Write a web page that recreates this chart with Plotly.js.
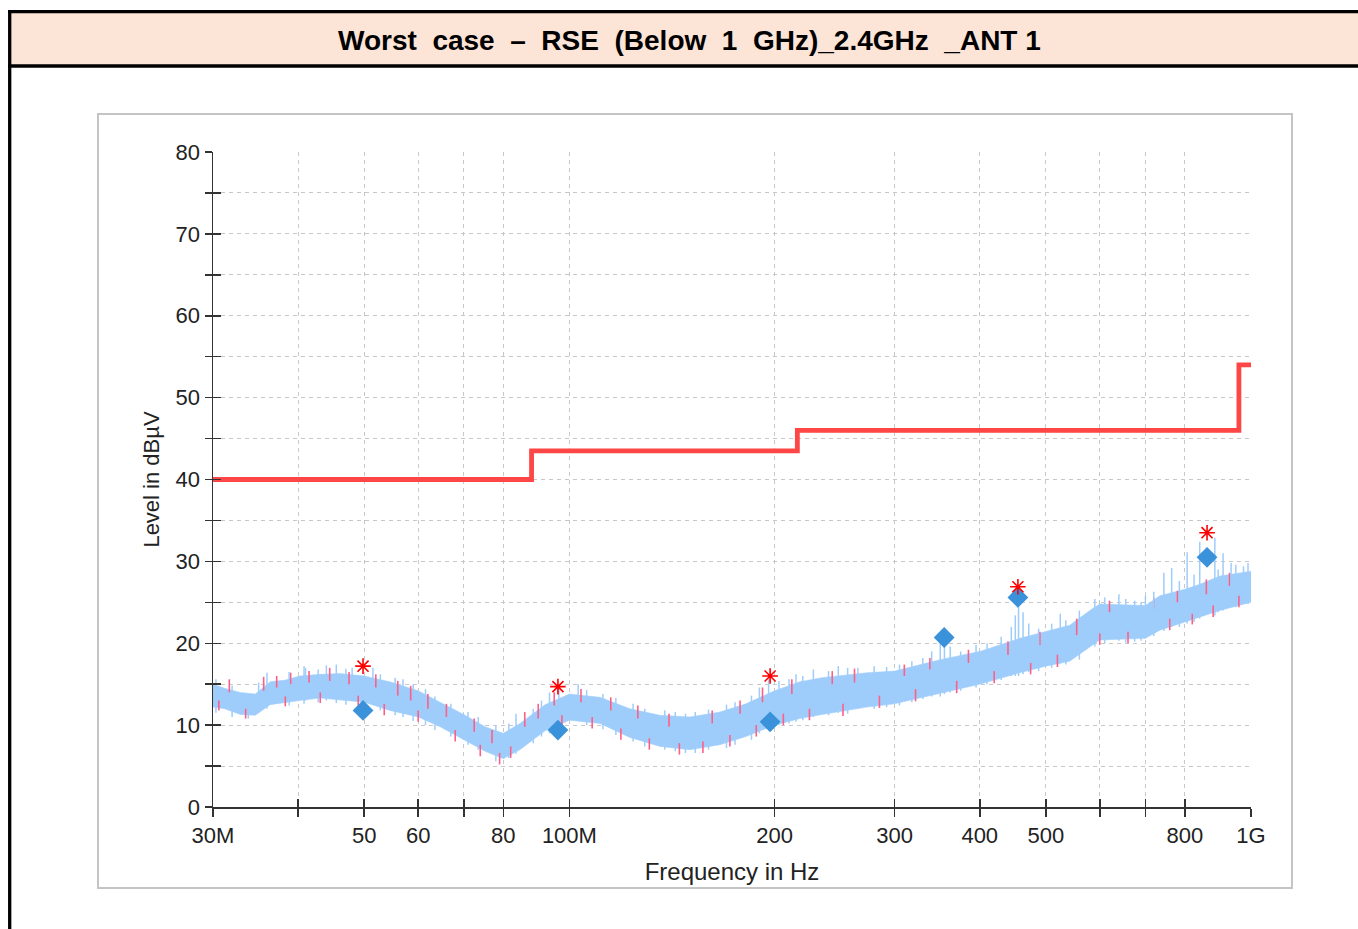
<!DOCTYPE html>
<html>
<head>
<meta charset="utf-8">
<script src="https://cdn.plot.ly/plotly-3.0.1.min.js"></script>
<style>html,body{margin:0;padding:0;background:#fff;}#chart{width:1358px;height:929px;}</style>
</head>
<body>
<div id="chart"></div>
<script>
// ---- data (frequencies in MHz, levels in dBµV) ----
const freqMHz = [30,31.2,32.9,34.6,36.4,38.3,40.2,43.1,46.1,50,54.5,60,64.6,70,75.2,80,84.6,92.1,100,110.9,122.7,135.8,150.3,166.3,181.6,200,217.9,234.8,273.3,300,349.8,400,458,500,542,580,600,700,735,800,841,900,1000];
const blueHi = [15.0,14.5,14.0,13.8,15.3,15.5,16.0,16.2,16.3,16.0,15.3,14.2,12.8,11.3,9.8,9.0,10.2,12.5,13.8,13.4,12.0,11.2,11.0,11.6,12.6,14.2,15.3,15.8,16.4,16.6,18.0,19.0,20.6,21.4,22.2,24.0,24.8,24.6,25.8,26.6,27.2,28.2,28.8];
const blueLo = [12.2,12.0,11.3,11.2,12.5,12.8,13.0,13.3,13.1,12.8,11.8,11.0,9.8,8.2,6.8,5.9,7.0,9.3,10.6,10.2,8.5,7.4,7.0,7.6,8.6,10.0,10.8,11.3,12.2,12.6,13.9,15.0,16.4,17.2,17.8,19.5,20.4,20.6,21.6,22.6,23.2,24.0,25.0];

// pink (second polarisation) streaks near the top and bottom of the band
const pinkTopF  = [31.7,35.6,37.2,39.0,41.5,44.5,47.5,52.0,56.0,58.5,62.0,66.0,72.5,77.0,86.0,90.0,95.0,104,115,126,140,162,178,192,212,243,262,310,338,385,440,490,555,620,720,780,860,930];
const pinkTopLo = [14.0,14.2,14.6,15.0,15.2,15.4,15.0,14.6,13.6,13.0,12.0,11.0,9.2,7.8,9.8,10.8,12.4,12.8,11.8,10.8,9.8,10.2,11.4,12.8,13.8,15.0,15.2,16.0,16.8,17.6,18.6,19.8,21.0,23.8,24.2,25.0,26.0,27.0];
const pinkTopHi = [15.6,15.9,16.0,16.4,16.6,17.0,16.5,16.2,15.4,14.8,13.8,12.6,10.8,9.4,11.6,12.6,14.0,14.4,13.4,12.4,11.4,11.8,13.0,14.6,15.6,16.6,16.9,17.4,18.2,19.2,20.2,21.4,23.0,25.2,25.6,26.4,27.8,28.6];
const pinkBotF  = [30.6,33.5,38.3,43.1,49.0,53.5,60.0,68.0,74.0,79.0,82.0,97.5,108,119,131,145,157,172,188,206,225,252,285,322,370,420,475,520,600,660,760,820,880,960];
const pinkBotLo = [11.8,10.8,12.3,12.7,12.2,11.2,10.4,8.0,6.2,5.2,6.0,9.8,9.6,8.2,7.0,6.4,6.6,7.4,8.6,10.0,10.6,11.1,12.1,12.9,13.9,15.1,16.2,17.1,19.8,20.0,21.6,22.3,23.2,24.4];
const pinkBotHi = [13.0,12.0,13.5,14.0,13.6,12.6,11.8,9.4,7.6,6.6,7.4,11.2,11.0,9.6,8.4,7.8,8.0,8.8,10.0,11.4,12.0,12.6,13.6,14.4,15.4,16.6,17.6,18.6,21.2,21.4,23.0,23.6,24.6,25.8];

// light-blue noise spikes of the main trace
const spikeF  = [30.3,32.0,33.8,35.0,36,38.8,40.8,41,42.8,44,45.5,47.0,48,51.5,52.8,55.5,57,59.0,61.5,63.5,67.0,71.0,73.5,78.0,81.5,83.5,88.5,91.0,93.5,96.5,103,106,112,117,124,129,138,143,148,153,160,170,175,185,190,196,203,210,215,220,228,240,248,256,265,280,292,305,318,330,340,350,355,362,375,395,410,430,445,451,456,463,472,488,510,525,535,560,590,610,640,655,675,690,700,720,745,765,785,806,825,841,885,895,910,935,950,975,990];
const spikeLo = [11.5,11.0,10.8,11.5,12,12.4,12.6,13,12.8,13,12.7,12.5,13,12.5,11.8,11.2,11,10.5,10.0,9.4,8.6,7.6,7.0,5.6,6.0,6.5,7.8,8.6,9.0,10,10.5,10.0,9.5,8.8,8.0,7.4,7.0,6.8,6.6,6.6,7.0,7.2,7.6,8.2,9,9.5,10,10.2,10.4,10.6,11,11.2,11.5,11.4,12,12.0,12.2,12.4,12.8,13.2,13.5,13.5,13.8,14,14.2,14.6,15.0,15.5,16,16,16,16.2,16.5,16.6,17.0,17.5,17.4,18.0,19.6,20.0,20.3,20.1,20.2,20.3,20.6,20.9,21.5,22,22.0,22.4,22.6,23,23.4,23.8,24,24.4,24.4,24.8,24.8];
const spikeHi = [15.6,14.8,13.5,15.2,16.4,16.5,17.2,17.0,16.8,17.3,17.4,16.9,17.0,17.0,16.2,15.8,15.6,15.0,14.4,13.5,12.6,11.6,11.0,10.0,10.2,11.4,12.0,13.0,14.0,14.4,15.0,14.3,13.8,13.3,12.6,12.0,11.8,11.6,11.4,11.6,11.9,12.5,12.8,13.6,14.6,15.6,15.4,15.6,16.2,16.0,16.8,16.6,17.2,17.0,17.0,17.2,17.1,17.4,17.8,18.2,19.0,20.2,20.6,19.6,19.0,19.8,20.0,20.8,22.0,23.4,24.8,23.8,22.4,21.8,22.4,23.6,22.8,24.0,25.4,25.6,26.0,25.4,25.2,25.0,25.8,26.3,28.6,29.2,27.6,31.1,28.4,32.4,32.9,29.0,31.0,29.8,29.6,29.4,29.8];

const limitF = [30,88,216,960,1000];
const limitV = [40,43.5,46,54,54];

const peakF = [49.8,96.2,197,455,862];
const peakV = [17.2,14.7,16.0,26.9,33.5];
const qpF = [49.8,96.2,197,354.7,455,862];
const qpV = [11.8,9.4,10.4,20.7,25.6,30.5];

const xTickVals = [30,40,50,60,70,80,100,200,300,400,500,600,700,800,1000];
const xTickText = ['30M','','50','60','','80','100M','200','300','400','500','','','800','1G'];
const yTickVals = [0,5,10,15,20,25,30,35,40,45,50,55,60,65,70,75,80];
const yTickText = ['0','','10','','20','','30','','40','','50','','60','','70','','80'];

// ---- build segment traces ----
function segs(f, lo, hi){
  const x=[], y=[];
  for(let i=0;i<f.length;i++){ x.push(f[i],f[i],null); y.push(lo[i],hi[i],null); }
  return {x,y};
}
const pt = segs(pinkTopF,pinkTopLo,pinkTopHi);
const pb = segs(pinkBotF,pinkBotLo,pinkBotHi);
const bs = segs(spikeF,spikeLo,spikeHi);

const FONT = 'Liberation Sans, Arial, sans-serif';
const BAND = '#9fcdfb';
const PINK = '#ff5f87';

const traces = [
  {x:freqMHz, y:blueLo, mode:'lines', line:{color:BAND, width:0.5}, hoverinfo:'skip', showlegend:false},
  {x:freqMHz, y:blueHi, mode:'lines', fill:'tonexty', fillcolor:BAND, line:{color:BAND, width:0.5}, hoverinfo:'skip', showlegend:false},
  {x:pt.x, y:pt.y, mode:'lines', line:{color:PINK, width:1.6}, hoverinfo:'skip', showlegend:false},
  {x:pb.x, y:pb.y, mode:'lines', line:{color:PINK, width:1.6}, hoverinfo:'skip', showlegend:false},
  {x:bs.x, y:bs.y, mode:'lines', line:{color:BAND, width:1.5}, hoverinfo:'skip', showlegend:false},
  {x:limitF, y:limitV, mode:'lines', line:{color:'#ff4646', width:4.8, shape:'hv'}, showlegend:false},
  {x:qpF, y:qpV, mode:'markers', marker:{symbol:'diamond', size:16, color:'#3a93da', line:{width:0}}, showlegend:false},
  {x:peakF, y:peakV, mode:'markers', marker:{symbol:'asterisk-open', size:13, color:'#ff0000', line:{color:'#ff0000', width:1.6}}, showlegend:false},
  {x:[], y:[], xaxis:'x2', yaxis:'y2', showlegend:false}
];

const L=213, R=1251, T=152, B=807;
const PX = x => (x-L)/(R-L);
const PY = y => (B-y)/(B-T);

const xr = [Math.log10(30), 3];
const layout = {
  width:1358, height:929,
  margin:{l:L, r:1358-R, t:T, b:929-B, pad:0},
  paper_bgcolor:'#ffffff', plot_bgcolor:'rgba(0,0,0,0)',
  showlegend:false,
  font:{family:FONT, color:'#222'},
  xaxis:{
    type:'log', range:xr, tickmode:'array', tickvals:xTickVals, ticktext:xTickText,
    ticks:'outside', ticklen:8, tickwidth:1.5, tickcolor:'#333',
    showline:true, linecolor:'#333', linewidth:1.5,
    showgrid:true, gridcolor:'#c8c8c8', gridwidth:1, griddash:'4px,4px',
    zeroline:false, tickfont:{family:FONT, size:22, color:'#222'},
    title:{text:'Frequency in Hz', font:{family:FONT, size:24, color:'#222'}, standoff:16},
    fixedrange:true
  },
  yaxis:{
    range:[0,80], tickmode:'array', tickvals:yTickVals, ticktext:yTickText,
    ticks:'outside', ticklen:7, tickwidth:1.5, tickcolor:'#333',
    showline:true, linecolor:'#333', linewidth:1.5,
    showgrid:true, gridcolor:'#c8c8c8', gridwidth:1, griddash:'4px,4px',
    zeroline:false, tickfont:{family:FONT, size:22, color:'#222'},
    title:{text:'Level in dBµV', font:{family:FONT, size:22, color:'#222'}, standoff:10},
    fixedrange:true
  },
  xaxis2:{type:'log', range:xr, overlaying:'x', anchor:'y', side:'bottom', tickmode:'array', tickvals:xTickVals,
    ticks:'inside', ticklen:8, tickwidth:1.5, tickcolor:'#333', showticklabels:false, showgrid:false, showline:false, zeroline:false},
  yaxis2:{range:[0,80], overlaying:'y', anchor:'x', side:'left', tickmode:'array', tickvals:yTickVals,
    ticks:'inside', ticklen:8, tickwidth:1.5, tickcolor:'#333', showticklabels:false, showgrid:false, showline:false, zeroline:false},
  shapes:[
    {type:'rect', xref:'paper', yref:'paper', x0:PX(10), x1:PX(1370), y0:PY(66), y1:PY(12), fillcolor:'#fce4d6', line:{width:0}, layer:'above'},
    {type:'line', xref:'paper', yref:'paper', x0:PX(8), x1:PX(1370), y0:PY(11.7), y1:PY(11.7), line:{color:'#000', width:3.3}, layer:'above'},
    {type:'line', xref:'paper', yref:'paper', x0:PX(8), x1:PX(1370), y0:PY(66), y1:PY(66), line:{color:'#000', width:3.3}, layer:'above'},
    {type:'line', xref:'paper', yref:'paper', x0:PX(9.7), x1:PX(9.7), y0:PY(10), y1:PY(940), line:{color:'#000', width:3.3}, layer:'above'},
    {type:'rect', xref:'paper', yref:'paper', x0:PX(98), x1:PX(1292), y0:PY(888), y1:PY(114), line:{color:'#c4c4c4', width:2}, fillcolor:'rgba(0,0,0,0)', layer:'above'}
  ],
  annotations:[
    {xref:'paper', yref:'paper', x:PX(689), y:PY(40), xanchor:'center', yanchor:'middle', showarrow:false,
     text:'<b>Worst\u00a0 case\u00a0 –\u00a0 RSE\u00a0 (Below\u00a0 1\u00a0 GHz)_2.4GHz\u00a0 _ANT 1</b>',
     font:{family:FONT, size:28, color:'#000'}}
  ]
};

Plotly.newPlot('chart', traces, layout, {staticPlot:true, displayModeBar:false});
</script>
</body>
</html>
